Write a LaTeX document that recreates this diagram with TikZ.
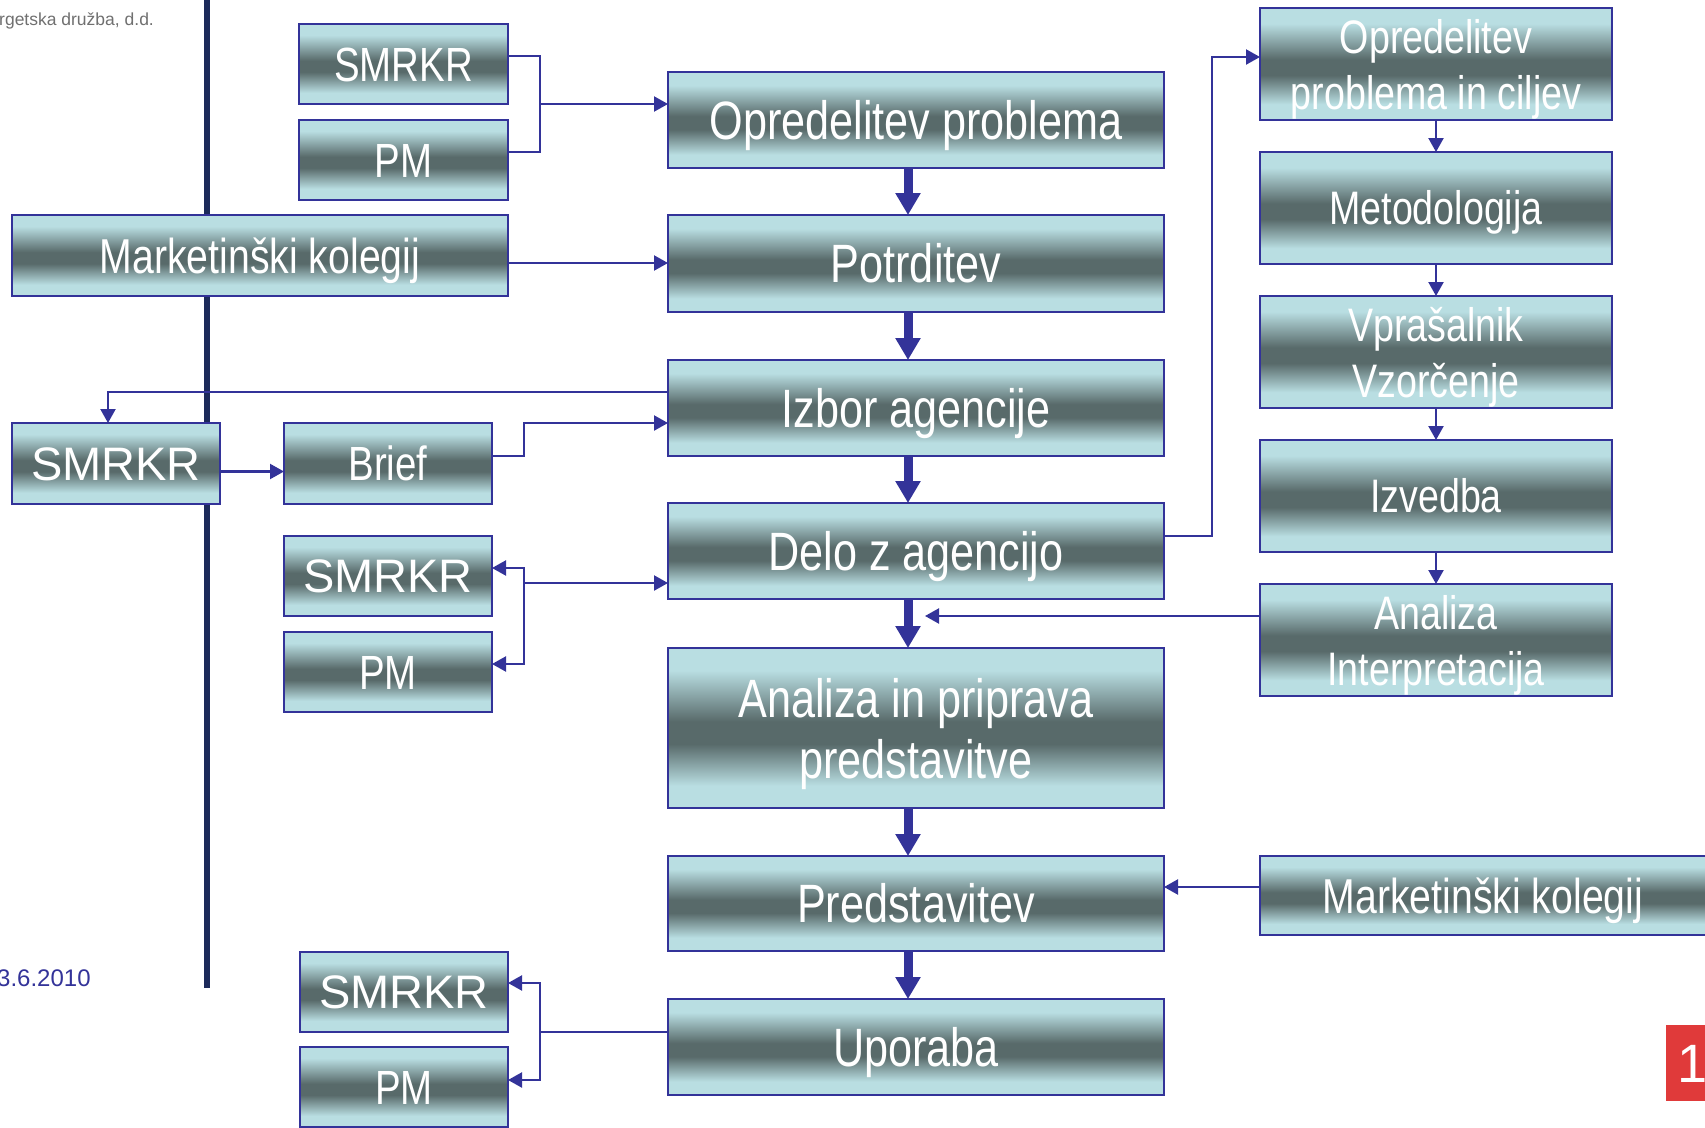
\documentclass[tikz,border=0pt]{standalone}
\usepackage{fontspec}
\setmainfont{Liberation Sans}
\newfontfamily\narf{Liberation Sans}[FakeStretch=0.8]
\usetikzlibrary{arrows.meta,calc}
\definecolor{bord}{RGB}{51,51,153}
\definecolor{vline}{RGB}{28,42,90}
\definecolor{graytxt}{RGB}{112,112,112}
\definecolor{redc}{RGB}{224,58,58}
\definecolor{lc}{RGB}{185,222,226}
\definecolor{dc}{RGB}{88,106,106}
\pgfdeclareverticalshading{boxshade}{100bp}{color(0bp)=(lc); color(32bp)=(lc); color(45bp)=(dc); color(52bp)=(dc); color(68bp)=(lc); color(100bp)=(lc)}
\newcommand{\rstrut}{\rule{0pt}{45pt}}
\newcommand{\mstrut}{\rule{0pt}{51pt}}
\tikzset{
  box/.style={draw=bord, line width=2.5pt, shading=boxshade, inner sep=0pt, outer sep=0pt, text=white, align=center},
  mainbox/.style={box, minimum width=496pt, minimum height=96pt, font=\narf\fontsize{54}{61}\selectfont},
  mainone/.style={mainbox, text height=38.7pt, text depth=0pt},
  rightbox/.style={box, minimum width=352pt, minimum height=112pt, font=\narf\fontsize{47}{56}\selectfont},
  rightone/.style={rightbox, text height=33.7pt, text depth=0pt},
  smallnar/.style={box, minimum width=208pt, minimum height=80pt, font=\narf\fontsize{48}{55}\selectfont, text height=34.4pt, text depth=0pt},
  smallreg/.style={box, minimum width=208pt, minimum height=80pt, font=\fontsize{47}{54}\selectfont, text height=33.7pt, text depth=0pt},
  mkbox/.style={box, minimum width=496pt, minimum height=81pt, font=\narf\fontsize{49}{56}\selectfont, text height=35.1pt, text depth=0pt},
  conn/.style={draw=bord, line width=2.2pt},
  arr/.style={conn, -{Triangle[length=14pt,width=15pt]}},
  bigarr/.style={draw=bord, line width=9pt, -{Triangle[length=22pt,width=24pt]}}
}
\begin{document}
\begin{tikzpicture}[x=1pt,y=-1pt]
\clip (0,0) rectangle (1705,1127);
\fill[white] (0,0) rectangle (1705,1127);
% vertical separator line
\draw[vline, line width=6pt] (207,-10) -- (207,988);
% header / footer texts
\node[anchor=base west, inner sep=0pt, text=graytxt, font=\fontsize{17.5}{20}\selectfont] (company) at (-1,25) {rgetska družba, d.d.};
\node[anchor=base west, inner sep=0pt, text=bord, font=\fontsize{24}{28}\selectfont] (date) at (-3,986) {3.6.2010};
\fill[redc] (1666,1025) rectangle (1712,1101);
\node[anchor=base west, inner sep=0pt, text=white, font=\fontsize{54}{60}\selectfont] (pagenum) at (1677,1082) {1};

% main column
\node[mainone] (op) at (916,120) {Opredelitev problema};
\node[mainone, minimum height=97pt] (pot) at (916,263.5) {Potrditev};
\node[mainone] (iz) at (916,408) {Izbor agencije};
\node[mainone] (de) at (916,551) {Delo z agencijo};
\node[mainbox, minimum height=160pt] (an) at (916,728) {\mstrut Analiza in priprava\\predstavitve};
\node[mainone, minimum height=95pt] (pr) at (916,903.5) {Predstavitev};
\node[mainone] (up) at (916,1047) {Uporaba};

% right column
\node[rightbox] (rc1) at (1436,64) {\rstrut Opredelitev\\problema in ciljev};
\node[rightone] (rc2) at (1436,208) {Metodologija};
\node[rightbox] (rc3) at (1436,352) {\rstrut Vprašalnik\\Vzorčenje};
\node[rightone] (rc4) at (1436,496) {Izvedba};
\node[rightbox] (rc5) at (1436,640) {\rstrut Analiza\\Interpretacija};
\node[mkbox, minimum width=446pt, minimum height=79pt] (mkr) at (1483,895.5) {Marketinški kolegij};

% left column
\node[smallnar, minimum width=209pt] (s1) at (403.5,64) {SMRKR};
\node[smallnar, minimum width=209pt] (pm1) at (403.5,160) {PM};
\node[mkbox] (mk) at (260,255.5) {Marketinški kolegij};
\node[smallreg, minimum height=81pt] (sl) at (116,463.5) {SMRKR};
\node[smallnar, minimum height=81pt] (br) at (388,463.5) {Brief};
\node[smallreg] (sm) at (388,576) {SMRKR};
\node[smallnar] (pm2) at (388,672) {PM};
\node[smallreg] (sb) at (404,992) {SMRKR};
\node[smallnar] (pm3) at (404,1087) {PM};

% junctions
\coordinate (j1) at (540,104);
\coordinate (jd) at (524,583);
\coordinate (ju) at (540,1032);
\coordinate (aiend) at (925,616);

% thick main arrows
\draw[bigarr] ([xshift=-8pt]op.south) -- ([xshift=-8pt]pot.north);
\draw[bigarr] ([xshift=-8pt]pot.south) -- ([xshift=-8pt]iz.north);
\draw[bigarr] ([xshift=-8pt]iz.south) -- ([xshift=-8pt]de.north);
\draw[bigarr] ([xshift=-8pt]de.south) -- ([xshift=-8pt]an.north);
\draw[bigarr] ([xshift=-8pt]an.south) -- ([xshift=-8pt]pr.north);
\draw[bigarr] ([xshift=-8pt]pr.south) -- ([xshift=-8pt]up.north);

% top SMRKR / PM -> Opredelitev problema
\draw[conn] ([yshift=8pt]s1.east) -| (j1);
\draw[conn] ([yshift=8pt]pm1.east) -| (j1);
\draw[arr] (j1) -- (j1 -| op.west);

% Marketinski kolegij -> Potrditev
\draw[arr] ([yshift=-7.5pt]mk.east) -- ([yshift=-7.5pt]mk.east -| pot.west);

% Izbor agencije -> SMRKR (left)
\draw[arr] ([yshift=16pt]iz.west) -| ([xshift=-8pt]sl.north);
% SMRKR -> Brief
\draw[arr] ([yshift=-8pt]sl.east) -- ([yshift=-8pt]br.west);
% Brief -> Izbor agencije
\draw[arr] ([yshift=7.5pt]br.east) -- ++(31.6,0) |- ([yshift=-15pt]iz.west);

% Delo z agencijo <-> SMRKR / PM
\draw[arr] (jd) -- (jd -| de.west);
\draw[arr] (jd) |- ([yshift=8pt]sm.east);
\draw[arr] (jd) |- ([yshift=8pt]pm2.east);

% Delo z agencijo -> right column
\draw[arr] ([yshift=15pt]de.east) -- ++(48,0) |- ([yshift=7pt]rc1.west);
\draw[arr] (rc1.south) -- (rc2.north);
\draw[arr] (rc2.south) -- (rc3.north);
\draw[arr] (rc3.south) -- (rc4.north);
\draw[arr] (rc4.south) -- (rc5.north);
\draw[arr] ([yshift=24pt]rc5.west) -- (aiend);

% Marketinski kolegij (right) -> Predstavitev
\draw[arr] ([yshift=8.5pt]mkr.west) -- ([yshift=8.5pt]mkr.west -| pr.east);

% Uporaba -> SMRKR / PM
\draw[conn] ([yshift=15pt]up.west) -- (ju);
\draw[arr] (ju) |- ([yshift=9pt]sb.east);
\draw[arr] (ju) |- ([yshift=7pt]pm3.east);
\end{tikzpicture}
\end{document}
